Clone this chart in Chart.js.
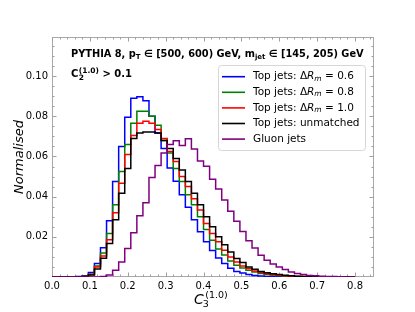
<!DOCTYPE html>
<html><head><meta charset="utf-8">
<script src="https://cdn.jsdelivr.net/npm/chart.js@4.4.1/dist/chart.umd.min.js"></script>
<style>html,body{margin:0;padding:0;background:#fff;}canvas{display:block;}</style>
</head><body>
<canvas id="c" width="415" height="312"></canvas>
<script>
// ---- data ----
const binEdges = [0.000,0.016,0.032,0.048,0.064,0.080,0.096,0.112,0.128,0.144,
  0.160,0.176,0.192,0.208,0.224,0.240,0.256,0.272,0.288,0.304,
  0.320,0.336,0.352,0.368,0.384,0.400,0.416,0.432,0.448,0.464,
  0.480,0.496,0.512,0.528,0.544,0.560,0.576,0.592,0.608,0.624,
  0.640,0.656,0.672,0.688,0.704,0.720,0.736,0.752,0.768,0.784,0.800];

const topDR06 = [0,0,0,0,0,0.0002,0.0006,0.0022,0.0067,0.0146,
  0.028,0.0475,0.065,0.0795,0.089,0.0898,0.0878,0.080,0.0717,0.064,
  0.0543,0.0477,0.041,0.0347,0.0285,0.0225,0.0175,0.0132,0.0095,0.0067,
  0.0043,0.0028,0.002,0.0013,0.0008,0.0005,0.0003,0.0002,0.0001,0.0001,
  0,0,0,0,0,0,0,0,0,0];
const topDR08 = [0,0,0,0,0,0.0001,0.0004,0.0014,0.0055,0.012,
  0.0217,0.036,0.0525,0.066,0.0765,0.0825,0.0825,0.080,0.0755,0.068,
  0.0617,0.054,0.0475,0.041,0.036,0.030,0.0237,0.0183,0.014,0.011,
  0.008,0.0058,0.0045,0.0033,0.0025,0.0018,0.0013,0.001,0.0007,0.0005,
  0.0003,0.0002,0.0001,0,0,0,0,0,0,0];
const topDR10 = [0,0,0,0,0,0.0001,0.0003,0.0012,0.005,0.0105,
  0.0185,0.032,0.0467,0.061,0.0705,0.0765,0.0775,0.0765,0.0735,0.069,
  0.0625,0.0575,0.050,0.045,0.039,0.0333,0.0267,0.0217,0.0175,0.0133,
  0.010,0.0075,0.0055,0.0042,0.003,0.0022,0.0016,0.0012,0.0009,0.0006,
  0.0004,0.0003,0.0002,0.0001,0,0,0,0,0,0];
const topUnmatched = [0,0,0,0,0,0.0001,0.0002,0.001,0.004,0.0093,
  0.0167,0.0285,0.0417,0.054,0.069,0.0717,0.0722,0.0722,0.0717,0.068,
  0.064,0.059,0.0533,0.0475,0.0417,0.036,0.030,0.025,0.020,0.016,
  0.0125,0.0092,0.0072,0.005,0.0038,0.0028,0.0021,0.0016,0.0012,0.0009,
  0.0006,0.0004,0.0003,0.0002,0.0001,0,0,0,0,0];
const gluonJets = [0,0,0,0,0,0,0,0,0,0.0002,
  0.001,0.0033,0.0075,0.0142,0.022,0.0305,0.037,0.0495,0.0555,0.0617,
  0.066,0.0678,0.0655,0.0688,0.0637,0.0578,0.0552,0.0487,0.0438,0.0383,
  0.0328,0.0277,0.0227,0.018,0.0145,0.0108,0.0084,0.0065,0.005,0.0037,
  0.0025,0.0017,0.0012,0.0008,0.0006,0.0004,0.0003,0.0002,0.0001,0];

const xTicks = [0.0,0.1,0.2,0.3,0.4,0.5,0.6,0.7,0.8];
const yTicks = [0.02,0.04,0.06,0.08,0.10];

// step outline: one point per left bin edge, plus closing point at the last edge
const toSteps = vals => binEdges.map((e, i) => ({x: e, y: i < vals.length ? vals[i] : 0}));

const FONT = '"DejaVu Sans", sans-serif';

const series = [
  {key:'dr06', vals: topDR06, color: '#0000ff', order: 5},
  {key:'dr08', vals: topDR08, color: '#008000', order: 4},
  {key:'dr10', vals: topDR10, color: '#ff0000', order: 3},
  {key:'unm',  vals: topUnmatched, color: '#000000', order: 2},
  {key:'glu',  vals: gluonJets, color: '#800080', order: 1}
];

function drawRich(ctx, x, y, parts){
  let cx = x;
  for (const p of parts){
    ctx.font = p.font;
    ctx.fillText(p.t, cx, y + (p.dy || 0));
    cx += ctx.measureText(p.t).width;
  }
  return cx;
}

const decor = {
  id: 'decor',
  beforeDatasetsDraw(chart){
    const {ctx, chartArea: a, scales: {x, y}} = chart;
    ctx.save();
    ctx.strokeStyle = '#a8a8a8';
    ctx.lineWidth = 1;
    ctx.strokeRect(a.left + 0.5, a.top + 0.5, a.right - a.left - 1, a.bottom - a.top - 1);
    ctx.strokeStyle = '#a0a0a0';
    ctx.beginPath();
    for (let i = 0; i <= 42; i++){
      const v = i * 0.02;
      const px = Math.round(x.getPixelForValue(v)) + 0.5;
      const L = (i % 5 === 0) ? 4.5 : 2.5;
      ctx.moveTo(px, a.bottom); ctx.lineTo(px, a.bottom - L);
      ctx.moveTo(px, a.top); ctx.lineTo(px, a.top + L);
    }
    for (let i = 1; i <= 23; i++){
      const v = i * 0.005;
      const py = Math.round(y.getPixelForValue(v)) + 0.5;
      const L = (i % 4 === 0) ? 4.5 : 2.5;
      ctx.moveTo(a.left, py); ctx.lineTo(a.left + L, py);
      ctx.moveTo(a.right, py); ctx.lineTo(a.right - L, py);
    }
    ctx.stroke();
    ctx.restore();
  },
  afterDraw(chart){
    const {ctx} = chart;
    ctx.save();
    ctx.fillStyle = '#000';
    ctx.textAlign = 'left';
    ctx.textBaseline = 'alphabetic';
    const B = 'bold 9.8px ' + FONT, Bs = 'bold 7px ' + FONT;
    drawRich(ctx, 71, 56.5, [
      {t:'PYTHIA 8, p', font:B}, {t:'T', font:Bs, dy:2},
      {t:' \u2208 [500, 600) GeV, m', font:B}, {t:'jet', font:Bs, dy:2},
      {t:' \u2208 [145, 205) GeV', font:B}
    ]);
    ctx.font = 'bold 10px ' + FONT;
    ctx.fillText('C', 71, 77);
    let cx = 71 + ctx.measureText('C').width + 0.5;
    ctx.font = 'bold 7.5px ' + FONT;
    ctx.fillText('(1.0)', cx, 72.5);
    const wsup = ctx.measureText('(1.0)').width;
    ctx.fillText('2', cx, 80);
    cx += wsup;
    ctx.font = 'bold 10px ' + FONT;
    ctx.fillText(' > 0.1', cx, 77);

    // legend
    const lx = 218, ly = 65, lw = 147, lh = 85;
    ctx.beginPath();
    if (ctx.roundRect) ctx.roundRect(lx + 0.5, ly + 0.5, lw, lh, 3); else ctx.rect(lx + 0.5, ly + 0.5, lw, lh);
    ctx.fillStyle = 'rgba(255,255,255,0.8)';
    ctx.fill();
    ctx.strokeStyle = '#d6d6d6';
    ctx.lineWidth = 1;
    ctx.stroke();
    const rowsY = [76.7, 92.3, 107.9, 123.5, 139.1];
    const F = '10.5px ' + FONT, Fi = 'italic 10.5px ' + FONT, Fis = 'italic 7.5px ' + FONT;
    const labels = [
      [{t:'Top jets: \u0394', font:F},{t:'R', font:Fi},{t:'m', font:Fis, dy:2},{t:' = 0.6', font:F}],
      [{t:'Top jets: \u0394', font:F},{t:'R', font:Fi},{t:'m', font:Fis, dy:2},{t:' = 0.8', font:F}],
      [{t:'Top jets: \u0394', font:F},{t:'R', font:Fi},{t:'m', font:Fis, dy:2},{t:' = 1.0', font:F}],
      [{t:'Top jets: unmatched', font:F}],
      [{t:'Gluon jets', font:F}]
    ];
    ctx.textBaseline = 'middle';
    chart.data.datasets.forEach((ds, i) => {
      const yy = rowsY[i];
      ctx.strokeStyle = ds.borderColor;
      ctx.lineWidth = 1.6;
      ctx.beginPath();
      ctx.moveTo(222, yy); ctx.lineTo(245, yy);
      ctx.stroke();
      ctx.fillStyle = '#000';
      drawRich(ctx, 253, yy, labels[i]);
    });

    // axis titles
    ctx.textBaseline = 'alphabetic';
    ctx.save();
    ctx.translate(23, 157);
    ctx.rotate(-Math.PI / 2);
    ctx.textAlign = 'center';
    ctx.font = 'italic 13px ' + FONT;
    ctx.fillText('Normalised', 0, 0);
    ctx.restore();

    ctx.textAlign = 'left';
    ctx.font = 'italic 14px ' + FONT;
    ctx.fillText('C', 194, 304);
    const cw = ctx.measureText('C').width;
    ctx.font = '9.5px ' + FONT;
    ctx.fillText('(1.0)', 194 + cw + 1.5, 297.5);
    ctx.fillText('3', 194 + cw - 1, 306.5);
    ctx.restore();
  }
};

new Chart(document.getElementById('c'), {
  type: 'line',
  data: {
    datasets: series.map(s => ({
      label: s.key,
      data: toSteps(s.vals),
      borderColor: s.color,
      backgroundColor: s.color,
      borderWidth: 1.5,
      pointRadius: 0,
      fill: false,
      stepped: 'after',
      order: s.order
    }))
  },
  options: {
    responsive: false,
    animation: false,
    events: [],
    layout: {padding: {top: 37, right: 41, left: 0, bottom: 0}},
    plugins: {legend: {display: false}, tooltip: {enabled: false}},
    scales: {
      x: {
        type: 'linear', min: 0, max: 0.85,
        afterFit: s => { s.height = 35; },
        afterBuildTicks: s => { s.ticks = xTicks.map(v => ({value: v})); },
        grid: {display: false, drawTicks: false},
        border: {display: false},
        ticks: {padding: 3, color: '#000', font: {family: 'DejaVu Sans', size: 10},
          maxRotation: 0, autoSkip: false, callback: v => Number(v).toFixed(1)}
      },
      y: {
        type: 'linear', min: 0, max: 0.1195,
        afterFit: s => { s.width = 52; },
        afterBuildTicks: s => { s.ticks = yTicks.map(v => ({value: v})); },
        grid: {display: false, drawTicks: false},
        border: {display: false},
        ticks: {padding: 4, color: '#000', font: {family: 'DejaVu Sans', size: 10},
          autoSkip: false, callback: v => Number(v).toFixed(2)}
      }
    }
  },
  plugins: [decor]
});
</script>
</body></html>
